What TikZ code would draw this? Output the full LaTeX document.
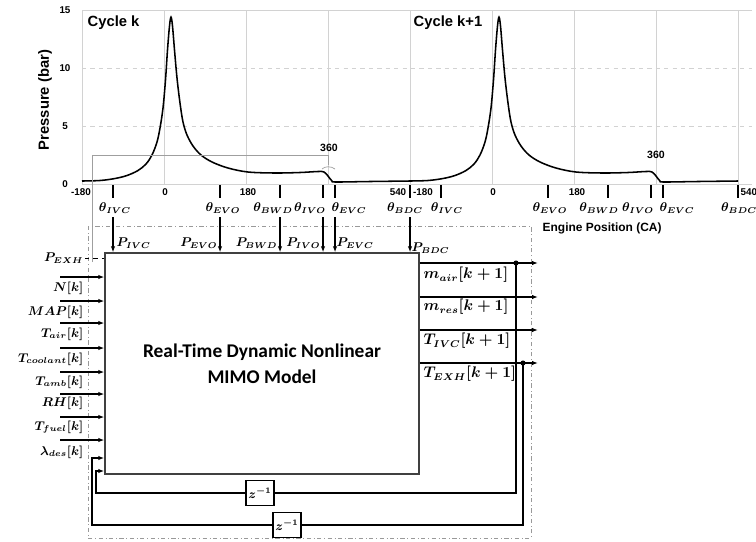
\documentclass[tikz,border=0pt]{standalone}
\usepackage{amsmath}
\usepackage[no-math]{fontspec}
\newfontfamily\plotfont{Liberation Sans}
\newfontfamily\calfont{Carlito}
\usetikzlibrary{arrows.meta,positioning}

\begin{document}
\begin{tikzpicture}[x=0.025cm,y=-0.025cm, every node/.style={inner sep=1pt},
 axl/.style={font=\plotfont\bfseries\fontsize{7}{8}\selectfont},
 ttl/.style={font=\plotfont\bfseries\fontsize{10.5}{12}\selectfont},
 sym/.style={font=\fontsize{9}{11}\selectfont\boldmath},
 isym/.style={font=\fontsize{9}{11}\selectfont\boldmath,anchor=east},
 osym/.style={font=\fontsize{10.5}{12}\selectfont\boldmath,anchor=west},
 blk/.style={draw=black!75,line width=0.9pt,fill=white,align=center,minimum width=7.85cm,minimum height=5.525cm,font=\calfont\bfseries\fontsize{13.8}{18.4}\selectfont},
 dly/.style={draw,line width=1pt,fill=white,minimum width=0.7cm,minimum height=0.625cm,inner sep=0pt,font=\fontsize{9}{10}\selectfont\boldmath},
 arr/.style={-{Latex[length=1.5mm,width=1.1mm]},line width=0.8pt},
 fb/.style={line width=1.2pt},
 grd/.style={gray!35,line width=0.4pt},
 tck/.style={line width=0.8pt},
 brk/.style={gray!75,line width=0.5pt},
 frm/.style={gray!80,dash dot,line width=0.6pt}]
\useasboundingbox (0,0) rectangle (756,541);
\foreach \x in {164,246,328,410,492,574,656,738} \draw[grd] (\x,10)--(\x,184);
\draw[grd] (82,10)--(752,10);\draw[grd,dashed] (82,68)--(752,68);\draw[grd,dashed] (82,126)--(752,126);\draw[grd] (82,10)--(82,184)--(752,184);
\foreach \s in {0,328} \draw[line width=1.1pt,shift={(\s,0)}] plot[smooth,tension=0.55] coordinates {(82,181) (100,180.5) (115,178.5) (127,175.5) (138,170.5) (146,164) (152,155) (157,142) (160,128) (163,108) (165.5,80) (167.5,50) (169.5,26) (171,17) (172.5,26) (174.5,50) (177,78) (180,103) (183,122) (187,135) (193,146) (201,155) (212,162) (228,168) (248,172) (275,173) (300,172.5) (318,171.5) (324,172) (328,176) (332,181) (336,182) (370,181.5) (410,181)};
\foreach \x in {113,220,280,323,335,410,441,548,608,651,663,738} \draw[tck] (\x,185)--(\x,198);
\node[axl] (y15) at (65,10) {15};
\node[axl] (y10) at (65,68) {10};
\node[axl] (y5) at (65,126) {5};
\node[axl] (y0) at (65,184) {0};
\node[axl] (xa) at (81,192) {-180};
\node[axl] (xb) at (165,192) {0};
\node[axl] (xc) at (248,192) {180};
\node[axl] (xd) at (398,192) {540};
\node[axl] (xe) at (423,192) {-180};
\node[axl] (xf) at (493,192) {0};
\node[axl] (xg) at (577,192) {180};
\node[axl,anchor=west] (xh) at (739,192) {540};
\node[ttl,anchor=west] (ck) at (86,23) {Cycle k};
\node[ttl,anchor=west] (ck1) at (412,23) {Cycle k+1};
\node[ttl,rotate=90] (ylab) at (45,100) {Pressure (bar)};
\node[axl,font=\plotfont\bfseries\fontsize{8.5}{10}\selectfont,anchor=west] (xlab) at (541,228) {Engine Position (CA)};
\draw[brk] (92,262)--(92,155)--(328,155)--(328,165);\draw[brk] (322,169) .. controls (325,166) and (331,166) .. (335,169);
\node[axl,font=\plotfont\bfseries\fontsize{7.5}{9}\selectfont] (r360) at (329,148) {360};
\node[axl,font=\plotfont\bfseries\fontsize{7.5}{9}\selectfont] (r360b) at (656,155) {360};
\draw[frm] (88,226) rectangle (531,538);
\node[sym] (thIVC) at (115,208) {$\theta_{IVC}$};
\node[sym] (thEVO) at (223,208) {$\theta_{EVO}$};
\node[sym] (thBWD) at (273,208) {$\theta_{BWD}$};
\node[sym] (thIVO) at (310,208) {$\theta_{IVO}$};
\node[sym] (thEVC) at (349,208) {$\theta_{EVC}$};
\node[sym] (thBDC) at (405,208) {$\theta_{BDC}$};
\node[sym] (thIVCb) at (447,208) {$\theta_{IVC}$};
\node[sym] (thEVOb) at (550,208) {$\theta_{EVO}$};
\node[sym] (thBWDb) at (599,208) {$\theta_{BWD}$};
\node[sym] (thIVOb) at (638,208) {$\theta_{IVO}$};
\node[sym] (thEVCb) at (677,208) {$\theta_{EVC}$};
\node[sym] (thBDCb) at (739,208) {$\theta_{BDC}$};
\node[blk] (mdl) at (262,363.5) {Real-Time Dynamic Nonlinear\\MIMO Model};
\foreach \x/\n in {113/a,220/b,280/c,323/d,335/e,410/f} \coordinate (k\n) at (\x,217);
\foreach \n in {a,b,c,d,e,f} \draw[arr] (k\n)--(k\n |- mdl.north);
\node[sym,anchor=west] (pIVC) at (115,243) {$P_{IVC}$};
\node[sym,anchor=east] (pEVO) at (219,243) {$P_{EVO}$};
\node[sym,anchor=east] (pBWD) at (279,243) {$P_{BWD}$};
\node[sym,anchor=east] (pIVO) at (322,243) {$P_{IVO}$};
\node[sym,anchor=west] (pEVC) at (335,243) {$P_{EVC}$};
\node[sym,anchor=west] (pBDC) at (410,248) {$P_{BDC}$};
\node[isym] (pEXH) at (85,258) {$P_{EXH}$};
\draw[dashed,line width=0.6pt] (pEXH.east)--(pEXH.east -| mdl.west);
\node[isym] (iN) at (85,288) {$N[k]$};
\node[isym] (iMAP) at (85,312) {$MAP[k]$};
\node[isym] (iTair) at (85,334) {$T_{air}[k]$};
\node[isym] (iTcool) at (85,359) {$T_{coolant}[k]$};
\node[isym] (iTamb) at (85,382) {$T_{amb}[k]$};
\node[isym] (iRH) at (85,403) {$RH[k]$};
\node[isym] (iTfuel) at (85,427) {$T_{fuel}[k]$};
\node[isym] (ilam) at (85,452) {$\lambda_{des}[k]$};
\foreach \y/\n in {277/1,301/2,323/3,348/4,372/5,394/6,417/7,440/8} \coordinate (i\n) at (60,\y);
\foreach \n in {1,...,8} \draw[arr] (i\n)--(i\n -| mdl.west);
\foreach \y/\n in {263/1,297/2,330/3,363/4} \coordinate (o\n) at (538,\y);
\foreach \n in {1,...,4} \draw[arr] (o\n -| mdl.east)--(o\n);
\node[osym] (omair) at (422,275) {$m_{air}[k+1]$};
\node[osym] (omres) at (422,307) {$m_{res}[k+1]$};
\node[osym] (oTivc) at (422,341) {$T_{IVC}[k+1]$};
\node[osym] (oTexh) at (422,374) {$T_{EXH}[k+1]$};
\coordinate (d1) at (516,263);
\coordinate (d2) at (523,363);
\coordinate (f1) at (96,471);
\coordinate (f2) at (92,458);
\node[dly] (z1) at (260,493) {$z^{-1}$};
\node[dly] (z2) at (287,525) {$z^{-1}$};
\draw[fb] (d1) |- (z1.east);\draw[fb,-{Latex[length=1.5mm,width=1.1mm]}] (z1.west) -| (f1) -- (f1 -| mdl.west);
\draw[fb] (d2) |- (z2.east);\draw[fb,-{Latex[length=1.5mm,width=1.1mm]}] (z2.west) -| (f2) -- (f2 -| mdl.west);
\fill (d1) circle (1.8pt);\fill (d2) circle (1.8pt);
\end{tikzpicture}
\end{document}
